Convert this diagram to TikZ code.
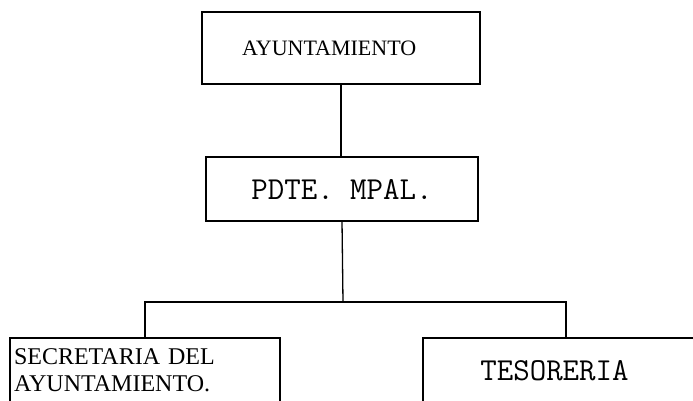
\documentclass[tikz,border=0pt]{standalone}
\usepackage{fontspec}
\setmainfont{Liberation Serif}
\tikzstyle{office}=[draw, inner sep=0, outer sep=0]
\tikzstyle{openoffice}=[inner sep=0, outer sep=0]
\tikzstyle{orgchart}=[x=1pt, y=-1pt, line width=1.3pt,
                      % Serif for the council, typewriter for the offices.
                      every node/.style={text depth=0pt}]

\begin{document}
\begin{tikzpicture}[orgchart]
        \useasboundingbox (0,0) rectangle (693,401);
        \node[office, minimum width=278pt, minimum height=72pt, text width=198pt, align=left, font=\fontsize{22}{26}\selectfont] (ayto) at (341,48) {AYUNTAMIENTO};
        \node[office, minimum width=272pt, minimum height=64pt, font={\ttfamily\fontsize{32}{34}\selectfont}] (pdte) at (342,189) {PDTE. MPAL.};
        \node[openoffice, minimum width=270pt, minimum height=56pt, text width=262pt, align=left, font=\fontsize{24}{27}\selectfont] (sec) at (145,357) {SECRETARIA DEL\\AYUNTAMIENTO.};
        \node[openoffice, minimum width=263pt, minimum height=64pt, font={\ttfamily\fontsize{32}{34}\selectfont}] (tes) at (554.5,370) {TESORERIA};
        \coordinate (floor) at (0,410);
        \coordinate (split) at (343,302);
        \coordinate (tesdrop) at (566,338);
        \draw (ayto.south) -- (ayto.south |- pdte.north);
        \draw (pdte.south) -- (split);
        \draw (sec.north |- tesdrop) |- (split) -| (tesdrop);
        \draw (sec.west |- floor) -- (sec.north west |- tesdrop) -- (sec.north east |- tesdrop) -- (sec.east |- floor);
        \draw (tes.west |- floor) -- (tes.north west) -- (tes.north east) -- +(20,0);
    \end{tikzpicture}
\end{document}
